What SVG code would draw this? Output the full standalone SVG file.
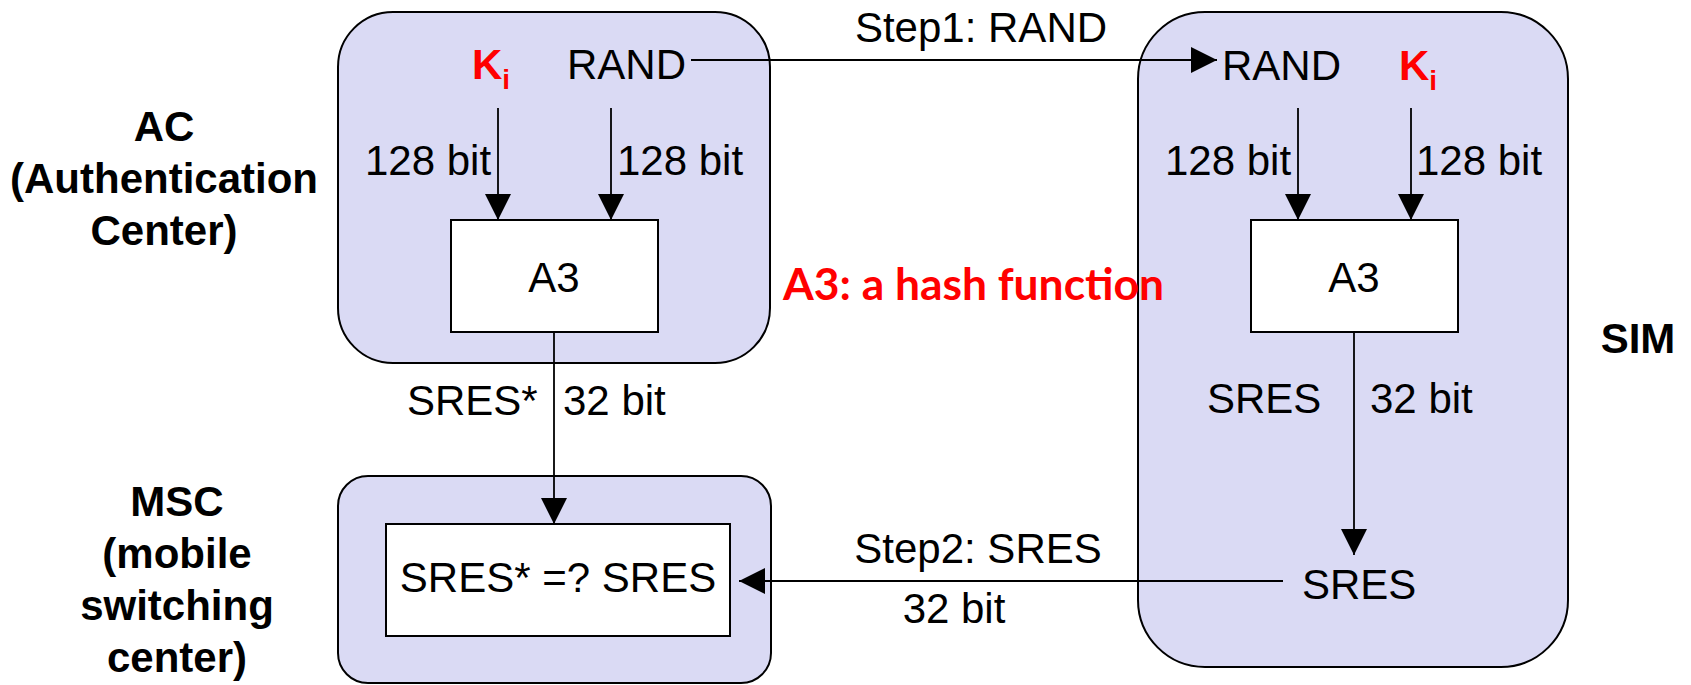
<svg xmlns="http://www.w3.org/2000/svg" width="1691" height="685" viewBox="0 0 1691 685">
  <style>
    .panel { fill: #DADAF4; stroke: #000; stroke-width: 2; }
    .box { fill: #fff; stroke: #000; stroke-width: 2; }
    .wire { fill: none; stroke: #000; stroke-width: 1.8; }
    .t { font-family: "Liberation Sans", Arial, sans-serif; font-size: 42px; fill: #000; }
    .lbl { font-family: "Liberation Sans", Arial, sans-serif; font-size: 42px; font-weight: bold; fill: #000; text-anchor: middle; }
    .key { font-family: "Liberation Sans", Arial, sans-serif; font-size: 42px; font-weight: bold; fill: #FF0000; }
    .note { font-family: Lato, "Liberation Sans", sans-serif; font-size: 43px; font-weight: bold; fill: #FF0000; }
    .mid { text-anchor: middle; }
  </style>
  <defs>
    <marker id="arrow" markerUnits="userSpaceOnUse" markerWidth="26" markerHeight="26" refX="26" refY="13" orient="auto">
      <path d="M0,0 L26,13 L0,26 z" fill="#000"/>
    </marker>
  </defs>

  <!-- Authentication Center -->
  <g id="ac">
    <rect class="panel" x="338" y="12" width="432" height="351" rx="55" ry="55"/>
    <text class="key" x="472" y="79">K<tspan font-size="28" dy="10">i</tspan></text>
    <text class="t" x="567" y="79">RAND</text>
    <text class="t" x="365" y="175">128 bit</text>
    <text class="t" x="617" y="175">128 bit</text>
    <rect class="box" x="451" y="220" width="207" height="112"/>
    <text class="t mid" x="554" y="292">A3</text>
  </g>

  <!-- Mobile switching center -->
  <g id="msc">
    <rect class="panel" x="338" y="476" width="433" height="207" rx="30" ry="30"/>
    <rect class="box" x="386" y="524" width="344" height="112"/>
    <text class="t mid" x="558" y="592">SRES* =? SRES</text>
  </g>

  <!-- SIM -->
  <g id="sim">
    <rect class="panel" x="1138" y="12" width="430" height="655" rx="67" ry="67"/>
    <text class="t" x="1222" y="80">RAND</text>
    <text class="key" x="1399" y="80">K<tspan font-size="28" dy="10">i</tspan></text>
    <text class="t" x="1165" y="175">128 bit</text>
    <text class="t" x="1416" y="175">128 bit</text>
    <rect class="box" x="1251" y="220" width="207" height="112"/>
    <text class="t mid" x="1354" y="292">A3</text>
    <text class="t" x="1207" y="413">SRES</text>
    <text class="t" x="1370" y="413">32 bit</text>
    <text class="t" x="1302" y="599">SRES</text>
  </g>

  <!-- side labels -->
  <g id="labels">
    <text class="lbl" x="164" y="141">AC</text>
    <text class="lbl" x="164" y="193">(Authentication</text>
    <text class="lbl" x="164" y="245">Center)</text>
    <text class="lbl" x="177" y="516">MSC</text>
    <text class="lbl" x="177" y="568">(mobile</text>
    <text class="lbl" x="177" y="620" font-size="44">switching</text>
    <text class="lbl" x="177" y="672">center)</text>
    <text class="lbl" x="1638" y="353">SIM</text>
    <text class="note" x="783" y="300" textLength="381" lengthAdjust="spacingAndGlyphs">A3: a hash function</text>
  </g>

  <!-- connectors -->
  <g id="connectors">
    <line class="wire" x1="498" y1="108" x2="498" y2="220" marker-end="url(#arrow)"/>
    <line class="wire" x1="611" y1="108" x2="611" y2="220" marker-end="url(#arrow)"/>
    <line class="wire" x1="1298" y1="108" x2="1298" y2="220" marker-end="url(#arrow)"/>
    <line class="wire" x1="1411" y1="108" x2="1411" y2="220" marker-end="url(#arrow)"/>
    <line class="wire" x1="691" y1="60" x2="1217" y2="60" marker-end="url(#arrow)"/>
    <line class="wire" x1="554" y1="332" x2="554" y2="524" marker-end="url(#arrow)"/>
    <line class="wire" x1="1354" y1="332" x2="1354" y2="555" marker-end="url(#arrow)"/>
    <line class="wire" x1="1283" y1="581" x2="739" y2="581" marker-end="url(#arrow)"/>
    <text class="t mid" x="981" y="42">Step1: RAND</text>
    <text class="t" x="407" y="415">SRES*</text>
    <text class="t" x="563" y="415">32 bit</text>
    <text class="t mid" x="978" y="563">Step2: SRES</text>
    <text class="t mid" x="954" y="623">32 bit</text>
  </g>
</svg>
